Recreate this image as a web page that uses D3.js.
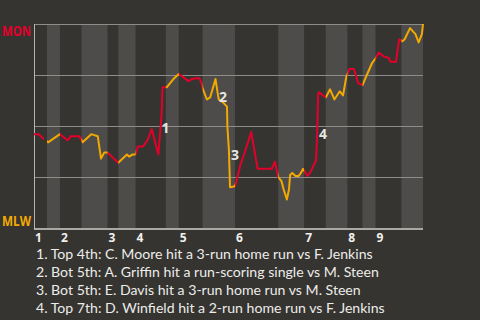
<!DOCTYPE html>
<html>
<head>
<meta charset="utf-8">
<script src="https://cdn.jsdelivr.net/npm/d3@7"></script>
<style>
  body { margin: 0; background: #353430; }
  svg { display: block; }
</style>
</head>
<body>
<svg id="chart" width="480" height="320"></svg>
<script>
// half-inning boundaries, in game events (top 1st, bot 1st, top 2nd, ...)
const halfInningBreaks = [0, 6, 12, 22, 34, 39, 47, 61, 67, 78, 93, 113, 125, 135, 145, 152, 158, 170, 180];
const innings = ['1', '2', '3', '4', '5', '6', '7', '8', '9'];

// win probability for MON, by game event
const events = [0, 2, 6.5, 12, 15.5, 17, 21, 22.5, 26.5, 29.5, 31, 32.5, 34, 39, 43, 44, 45.5, 47, 48, 50.5,
  52.5, 54.5, 57.5, 59, 59.5, 60.5, 61.5, 63, 64.5, 65.5, 67, 71.5, 73, 76.5, 77.5, 78, 80, 81.5, 84, 85,
  85.5, 87.5, 89.3, 89.5, 90.2, 90.7, 93, 93.5, 95.5, 97.5, 100.5, 103.5, 110, 111.5, 113, 114.5, 115.5, 117, 118, 118.5,
  119.5, 121, 122.5, 123.5, 124.5, 126.5, 128, 129.5, 130.5, 131, 131.5, 132, 135, 137, 139, 141.5, 143, 144.5, 146, 148,
  150, 152, 154, 156.5, 158, 159.5, 162, 164, 165, 167.5, 168.5, 169, 170.5, 171.5, 174, 176.5, 178, 179.5, 180];
const winProb = [0.46, 0.46, 0.42, 0.46, 0.43, 0.45, 0.45, 0.42, 0.46, 0.45, 0.34, 0.37, 0.37, 0.32, 0.36, 0.35, 0.36, 0.36, 0.40, 0.40,
  0.43, 0.485, 0.36, 0.55, 0.69, 0.69, 0.69, 0.71, 0.73, 0.74, 0.755, 0.72, 0.73, 0.735, 0.71, 0.686, 0.63, 0.64, 0.73, 0.66,
  0.63, 0.615, 0.595, 0.495, 0.38, 0.20, 0.205, 0.22, 0.31, 0.37, 0.47, 0.29, 0.29, 0.325, 0.25, 0.23, 0.19, 0.14, 0.19, 0.26,
  0.27, 0.255, 0.255, 0.27, 0.29, 0.255, 0.275, 0.31, 0.33, 0.456, 0.66, 0.665, 0.64, 0.68, 0.63, 0.67, 0.65, 0.74, 0.78, 0.78,
  0.71, 0.70, 0.75, 0.81, 0.83, 0.86, 0.84, 0.835, 0.815, 0.815, 0.89, 0.925, 0.915, 0.925, 0.98, 0.95, 0.91, 0.95, 1.0];

const noteEvents = [59, 85.6, 91.2, 131.9];
const noteProb = [0.466, 0.618, 0.333, 0.436];
const notes = [
  '1. Top 4th: C. Moore hit a 3-run home run vs F. Jenkins',
  '2. Bot 5th: A. Griffin hit a run-scoring single vs M. Steen',
  '3. Bot 5th: E. Davis hit a 3-run home run vs M. Steen',
  '4. Top 7th: D. Winfield hit a 2-run home run vs F. Jenkins'
];

const gridProb = [0.25, 0.5, 0.75, 1];
const homeColor = '#f2a900';
const awayColor = '#e4002b';
const boldFont = '"Open Sans", sans-serif';

const svg = d3.select('#chart');
const margin = { top: 24, right: 57, bottom: 92, left: 34 };
const width = 480, height = 320;

const x = d3.scaleLinear()
  .domain([0, 180])
  .range([margin.left, width - margin.right]);
const y = d3.scaleLinear()
  .domain([0, 1])
  .range([height - margin.bottom, margin.top]);

const halves = d3.pairs(halfInningBreaks).map((d, i) => ({ x0: d[0], x1: d[1], top: i % 2 === 0 }));

// bottom halves get the lighter band
svg.append('g')
  .selectAll('rect')
  .data(halves.filter((d) => !d.top))
  .join('rect')
  .attr('x', (d) => x(d.x0))
  .attr('y', y(1))
  .attr('width', (d) => x(d.x1) - x(d.x0))
  .attr('height', y(0) - y(1))
  .attr('fill', '#4d4c4a');

svg.append('g')
  .selectAll('line')
  .data(gridProb)
  .join('line')
  .attr('x1', x(0))
  .attr('x2', x(180))
  .attr('y1', (d) => Math.round(y(d)) + 0.5)
  .attr('y2', (d) => Math.round(y(d)) + 0.5)
  .attr('stroke', '#8e8d8a')
  .attr('stroke-width', 1);

// axes
svg.append('line')
  .attr('x1', x(0) + 0.5).attr('x2', x(0) + 0.5)
  .attr('y1', y(1)).attr('y2', y(0) + 1)
  .attr('stroke', '#b5b4b0');
svg.append('line')
  .attr('x1', x(0)).attr('x2', x(180))
  .attr('y1', y(0) + 1).attr('y2', y(0) + 1)
  .attr('stroke', '#d0cfcb')
  .attr('stroke-width', 1.5);

// clip paths, one per batting team
const defs = svg.append('defs');
['top', 'bot'].forEach((k) => {
  defs.append('clipPath')
    .attr('id', 'clip-' + k)
    .selectAll('rect')
    .data(halves.filter((d) => d.top === (k === 'top')))
    .join('rect')
    .attr('x', (d) => x(d.x0) - (d.x0 === 0 ? 3 : 0))
    .attr('y', 0)
    .attr('width', (d) => x(d.x1) - x(d.x0) + (d.x1 === 180 ? 3 : 0))
    .attr('height', height);
});

const line = d3.line()
  .x((d, i) => x(events[i]))
  .y((d) => y(d));

svg.append('path')
  .datum(winProb)
  .attr('clip-path', 'url(#clip-top)')
  .attr('fill', 'none')
  .attr('stroke', awayColor)
  .attr('stroke-width', 2)
  .attr('stroke-linejoin', 'round')
  .attr('d', line);

svg.append('path')
  .datum(winProb)
  .attr('clip-path', 'url(#clip-bot)')
  .attr('fill', 'none')
  .attr('stroke', homeColor)
  .attr('stroke-width', 2)
  .attr('stroke-linejoin', 'round')
  .attr('d', line);

// note markers
svg.append('g')
  .selectAll('text')
  .data(noteEvents)
  .join('text')
  .attr('x', (d) => x(d))
  .attr('y', (d, i) => y(noteProb[i]))
  .attr('fill', '#e6e6e4')
  .attr('font-family', boldFont)
  .attr('font-weight', 'bold')
  .attr('font-size', 14)
  .text((d, i) => i + 1);

// team labels
svg.append('text')
  .attr('x', 2).attr('y', 36)
  .attr('fill', awayColor)
  .attr('font-family', boldFont)
  .attr('font-weight', 'bold')
  .attr('font-size', 15)
  .attr('textLength', 29)
  .attr('lengthAdjust', 'spacingAndGlyphs')
  .text('MON');
svg.append('text')
  .attr('x', 2).attr('y', 226)
  .attr('fill', homeColor)
  .attr('font-family', boldFont)
  .attr('font-weight', 'bold')
  .attr('font-size', 15)
  .attr('textLength', 29)
  .attr('lengthAdjust', 'spacingAndGlyphs')
  .text('MLW');

// inning labels at the start of each top half
svg.append('g')
  .selectAll('text')
  .data(innings)
  .join('text')
  .attr('x', (d, i) => x(halfInningBreaks[i * 2]) + 1)
  .attr('y', 242)
  .attr('fill', '#f0f0ee')
  .attr('font-family', boldFont)
  .attr('font-weight', 'bold')
  .attr('font-size', 12)
  .text((d) => d);

svg.append('g')
  .selectAll('text')
  .data(notes)
  .join('text')
  .attr('x', 36)
  .attr('y', (d, i) => 259 + i * 18)
  .attr('fill', '#ececea')
  .attr('font-family', 'Lato, sans-serif')
  .attr('font-size', 14.1)
  .text((d) => d);
</script>
</body>
</html>
